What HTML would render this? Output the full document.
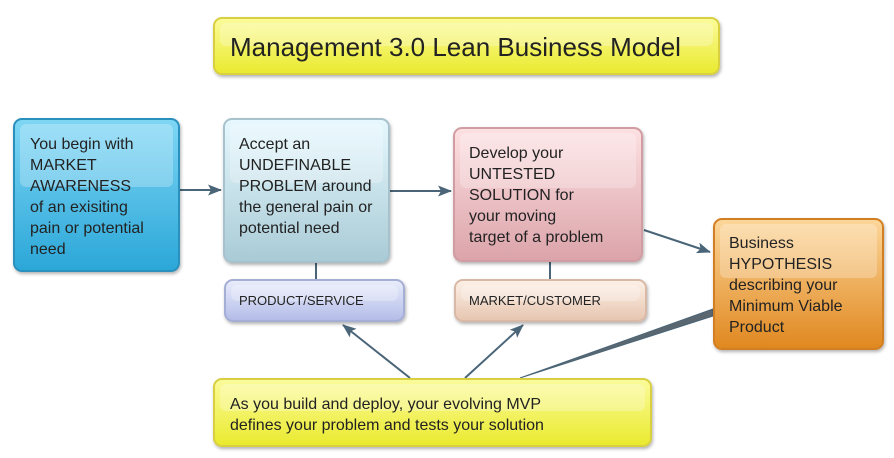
<!DOCTYPE html>
<html><head><style>
body{margin:0;width:894px;height:458px;background:#fff;position:relative;overflow:hidden;font-family:"Liberation Sans",sans-serif;color:#222}
.b{position:absolute;box-sizing:border-box;border-radius:9px;box-shadow:1px 2px 3px rgba(0,0,0,.3);font-size:16px;line-height:21px}
.b::before{content:"";position:absolute;left:5px;right:5px;top:4px;height:42%;border-radius:6px;background:rgba(255,255,255,.25)}
.b span{position:relative}
</style></head><body>
<svg width="894" height="458" style="position:absolute;left:0;top:0">
<defs><marker id="a" markerWidth="14" markerHeight="11" refX="13" refY="5.5" orient="auto" markerUnits="userSpaceOnUse"><path d="M0,0L14,5.5L0,11L3,5.5z" fill="#4a6578"/></marker></defs>
<g stroke="#4a6578" stroke-width="2" fill="none">
<line x1="180" y1="190" x2="221" y2="190" marker-end="url(#a)"/>
<line x1="390" y1="191" x2="451" y2="191" marker-end="url(#a)"/>
<line x1="644" y1="230" x2="710" y2="252" marker-end="url(#a)"/>
<line x1="316" y1="263" x2="316" y2="279"/>
<line x1="550" y1="262" x2="550" y2="279"/>
<line x1="410" y1="378" x2="343" y2="325" marker-end="url(#a)"/>
<line x1="465" y1="378" x2="523" y2="325" marker-end="url(#a)"/>
<path d="M520,378 L713,309 L713,316 Z" fill="#5a6770" stroke-width="1"/>
</g></svg>
<div class="b" style="left:213px;top:17px;width:507px;height:58px;background:linear-gradient(#fbfb9a,#eaea30);border:2px solid #d8d040;font-size:26px;line-height:56px;padding-left:15px"><span>Management 3.0 Lean Business Model</span></div>
<div class="b" style="left:13px;top:118px;width:167px;height:154px;background:linear-gradient(#7fd6f5,#2ba7d8);border:2px solid #2a90bd;padding:14px 0 0 15px"><span>You begin with<br>MARKET<br>AWARENESS<br>of an exisiting<br>pain or potential<br>need</span></div>
<div class="b" style="left:223px;top:118px;width:167px;height:145px;background:linear-gradient(#e6f8fe,#a9cbd6);border:2px solid #a7c2cc;padding:14px 0 0 14px"><span>Accept an<br>UNDEFINABLE<br>PROBLEM around<br>the general pain or<br>potential need</span></div>
<div class="b" style="left:453px;top:127px;width:190px;height:135px;background:linear-gradient(#fde0e2,#dba4aa);border:2px solid #d29ca3;padding:14px 0 0 14px"><span>Develop your<br>UNTESTED<br>SOLUTION for<br>your moving<br>target of a problem</span></div>
<div class="b" style="left:713px;top:218px;width:171px;height:132px;background:linear-gradient(#fcd69a,#e08820);border:2px solid #d17f22;padding:13px 0 0 14px"><span>Business<br>HYPOTHESIS<br>describing your<br>Minimum Viable<br>Product</span></div>
<div class="b" style="left:224px;top:279px;width:181px;height:43px;background:linear-gradient(#e8ecfb,#b4bde8);border:2px solid #a5aed5;font-size:13px;line-height:40px;padding-left:13px"><span>PRODUCT/SERVICE</span></div>
<div class="b" style="left:454px;top:279px;width:193px;height:43px;background:linear-gradient(#fdf0e6,#e7c6b1);border:2px solid #d8b9a6;font-size:13px;line-height:40px;padding-left:13px"><span>MARKET/CUSTOMER</span></div>
<div class="b" style="left:213px;top:378px;width:439px;height:69px;background:linear-gradient(#fbfb9a,#eaea30);border:2px solid #d8d040;padding:14px 0 0 15px"><span>As you build and deploy, your evolving MVP<br>defines your problem and tests your solution</span></div>
</body></html>
